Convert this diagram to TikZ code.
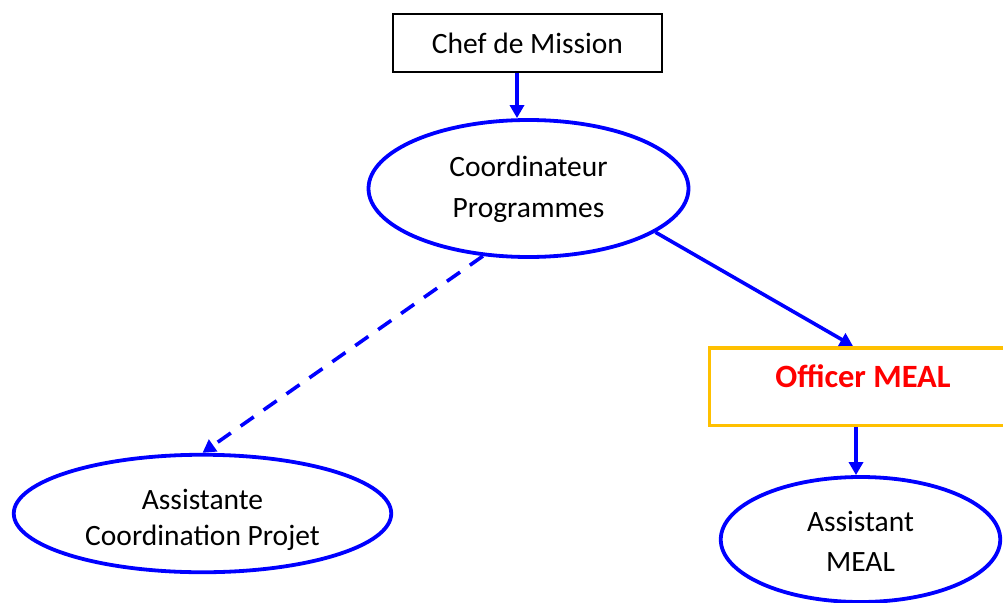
\documentclass[tikz,border=0pt]{standalone}
\usepackage{fontspec}
\setmainfont{Carlito}
\usetikzlibrary{shapes.geometric,arrows.meta}
\definecolor{lnblue}{HTML}{0000FF}
\definecolor{offorange}{HTML}{FFC000}
\definecolor{offred}{HTML}{FF0000}
\tikzset{
  chefbox/.style={draw=black, line width=2pt, rectangle, inner sep=0pt,
    minimum width=269pt, minimum height=58pt, font=\fontsize{29.5}{35}\selectfont},
  oval/.style={draw=lnblue, line width=3.8pt, ellipse, inner sep=0pt, align=center},
  offbox/.style={draw=offorange, line width=3.5pt, rectangle, inner sep=0pt,
    minimum width=307pt, minimum height=77.5pt, text=offred,
    font=\fontsize{32.5}{38}\selectfont\bfseries, text height=22pt, text depth=20pt},
  arr/.style={draw=lnblue, line width=3.6pt, -{Triangle[length=13pt,width=14pt]}},
  dasharr/.style={arr, dash pattern=on 16pt off 12pt}
}
\begin{document}
\begin{tikzpicture}[x=1pt, y=-1pt]
\path[use as bounding box] (0,0) rectangle (1003,602);
\clip (0,0) rectangle (1003,602);
\node[chefbox] (chef) at (527.5,43) {Chef de Mission};
\node[oval, minimum width=320pt, minimum height=137pt,
  font=\fontsize{29.5}{41}\selectfont, text height=60pt, text depth=3pt] (coord) at (528.5,188.5) {Coordinateur\\Programmes};
\node[offbox] (off) at (863,386.5) {Officer MEAL};
\node[oval, minimum width=377.5pt, minimum height=117.5pt,
  font=\fontsize{29.5}{36}\selectfont, text height=66pt, text depth=3pt] (asst) at (202.5,513.5) {Assistante\\Coordination Projet};
\node[oval, minimum width=279.5pt, minimum height=125pt,
  font=\fontsize{29.5}{40}\selectfont, text height=68pt, text depth=3.6pt] (meal) at (860.5,539.5) {Assistant\\MEAL};
\draw[arr] ([xshift=-10.5pt]chef.south) -- ([xshift=-11.5pt]coord.north);
\draw[arr] (coord.-19) -- ([xshift=-10pt]off.north);
\draw[dasharr] (coord.236) -- (asst.north);
\draw[arr] ([xshift=-7pt]off.south) -- ([xshift=-4.5pt]meal.north);
\end{tikzpicture}
\end{document}
